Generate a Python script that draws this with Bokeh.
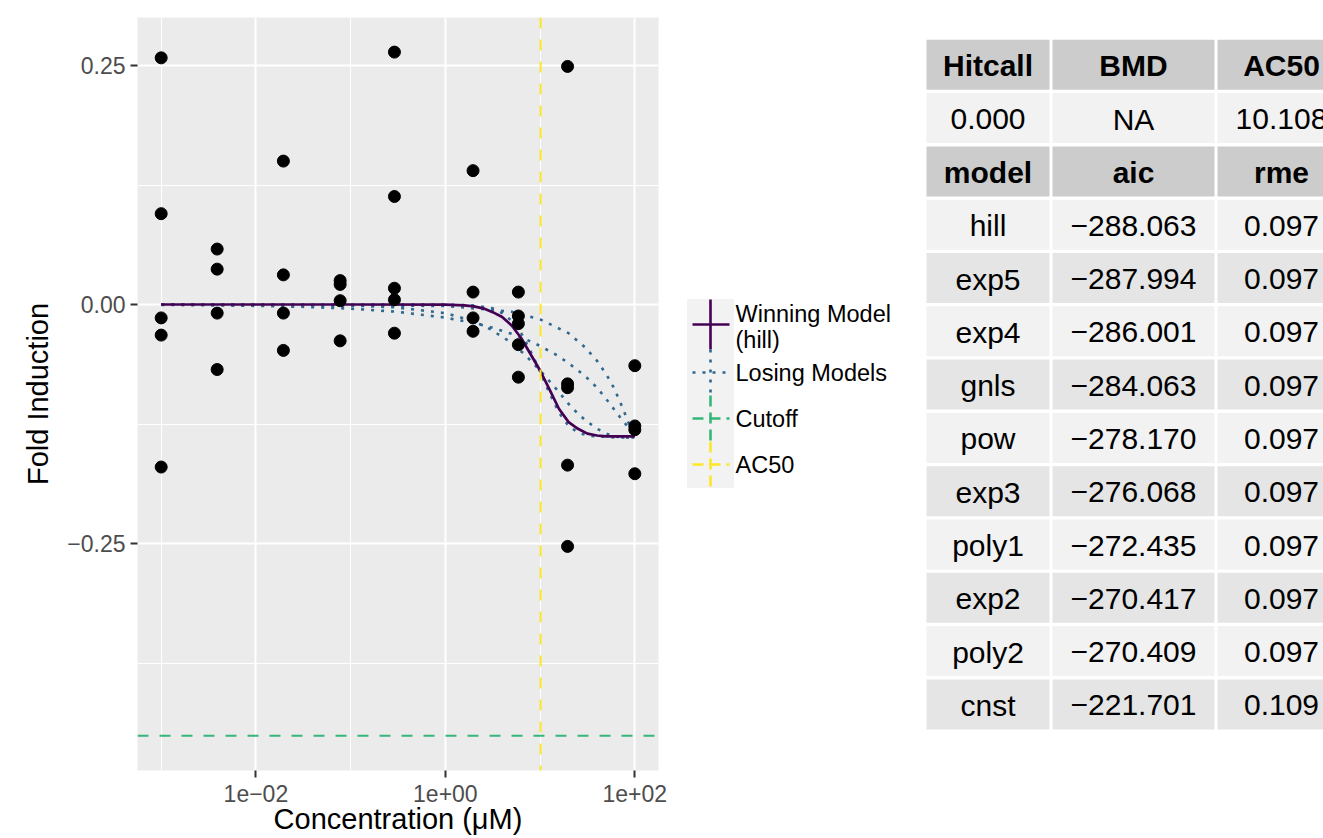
from bokeh.plotting import figure
from bokeh.models import Range1d, FixedTicker, Span, ColumnDataSource
from bokeh.layouts import row
from bokeh.embed import file_html
from bokeh.resources import INLINE
from bokeh.core.properties import value

FONT = "Liberation Sans"

# ---------------- data ----------------
conc = [0.001, 0.001, 0.001, 0.001, 0.001,
        0.0039, 0.0039, 0.0039, 0.0039,
        0.0195, 0.0195, 0.0195, 0.0195,
        0.0775, 0.0775, 0.0775, 0.0775,
        0.29, 0.29, 0.29, 0.29, 0.29,
        1.96, 1.96, 1.96, 1.96,
        5.9, 5.9, 5.9, 5.9, 5.9,
        19.5, 19.5, 19.5, 19.5, 19.5,
        100, 100, 100, 100]
resp = [0.258, 0.095, -0.014, -0.032, -0.170,
        0.058, 0.037, -0.009, -0.068,
        0.150, 0.031, -0.009, -0.048,
        0.025, 0.021, 0.004, -0.038,
        0.264, 0.113, 0.017, 0.005, -0.030,
        0.140, 0.013, -0.014, -0.028,
        0.013, -0.012, -0.020, -0.042, -0.076,
        0.249, -0.083, -0.087, -0.168, -0.253,
        -0.064, -0.127, -0.131, -0.177]

# winning model (hill)
hill_conc = [0.001, 0.1, 1.0, 1.58, 2.0, 2.51, 3.16, 3.98, 5.01, 6.31, 7.94, 10.0,
             12.6, 15.8, 20.0, 25.1, 31.6, 39.8, 50.1, 63.1, 100]
hill_resp = [0.0, 0.0, -0.0002, -0.001, -0.002, -0.004, -0.008, -0.013, -0.022, -0.035,
             -0.052, -0.069, -0.089, -0.109, -0.123, -0.130, -0.135, -0.137, -0.138,
             -0.138, -0.138]

# losing models
exp5_conc = [0.001, 1.0, 2.0, 3.16, 3.98, 5.01, 6.31, 7.94, 10.0, 12.6, 15.8, 20.0,
             25.1, 31.6, 39.8, 63.1, 100]
exp5_resp = [0.0, 0.0, -0.001, -0.004, -0.009, -0.017, -0.030, -0.049, -0.070, -0.093,
             -0.113, -0.127, -0.134, -0.137, -0.138, -0.139, -0.139]

exp4_conc = [0.001, 0.1, 0.3, 1, 2, 3, 5, 7, 10, 15, 20, 25, 30, 40, 50, 60, 80, 100]
exp4_resp = [0.0, -0.001, -0.003, -0.009, -0.0175, -0.026, -0.040, -0.053, -0.069,
             -0.089, -0.104, -0.114, -0.121, -0.130, -0.135, -0.138, -0.139, -0.140]

pow_conc = [0.001, 0.003, 0.01, 0.03, 0.1, 0.3, 1, 2, 3, 5, 7, 10, 15, 20, 30, 40,
            50, 70, 100]
pow_resp = [-0.0004, -0.0008, -0.0014, -0.0024, -0.0043, -0.0075, -0.0137, -0.0194,
            -0.0237, -0.0306, -0.0362, -0.0433, -0.053, -0.0613, -0.075, -0.087,
            -0.099, -0.118, -0.137]

poly1_conc = [0.001, 1, 5, 10, 20, 30, 40, 50, 60, 70, 80, 90, 100]
poly1_resp = [0.0, -0.0015, -0.0075, -0.0155, -0.030, -0.045, -0.059, -0.073, -0.087,
              -0.102, -0.116, -0.129, -0.140]

cutoff = -0.451
ac50 = 10.108

x_ticks = [0.01, 1, 100]
x_tick_labels = ["1e\u221202", "1e+00", "1e+02"]
y_ticks = [-0.25, 0.0, 0.25]
y_tick_labels = ["\u22120.25", "0.00", "0.25"]

legend_labels = ["Winning Model\n(hill)", "Losing Models", "Cutoff", "AC50"]

hit_header = ["Hitcall", "BMD", "AC50"]
hit_values = ["0.000", "NA", "10.108"]
model_header = ["model", "aic", "rme"]
models = ["hill", "exp5", "exp4", "gnls", "pow", "exp3", "poly1", "exp2", "poly2", "cnst"]
aic = [-288.063, -287.994, -286.001, -284.063, -278.170, -276.068, -272.435,
       -270.417, -270.409, -221.701]
rme = [0.097, 0.097, 0.097, 0.097, 0.097, 0.097, 0.097, 0.097, 0.097, 0.109]

C_WIN = "#440154"
C_LOSE = "#31688E"
C_CUT = "#35B779"
C_AC50 = "#FDE725"

TOP, BOTTOM = 17, 68   # outer borders (px) shared by both panels of the row

# ---------------- main plot ----------------
p = figure(width=680, height=838, x_axis_type="log",
           x_range=Range1d(10 ** -3.25, 10 ** 2.25),
           y_range=Range1d(-0.4874, 0.3002),
           output_backend="svg", toolbar_location=None,
           min_border_left=137, min_border_right=22, min_border_top=TOP,
           min_border_bottom=BOTTOM,
           background_fill_color="#EBEBEB", border_fill_color="white",
           outline_line_color=None)

p.xaxis.ticker = FixedTicker(ticks=x_ticks, minor_ticks=[])
p.yaxis.ticker = FixedTicker(ticks=y_ticks, minor_ticks=[])
p.xgrid.ticker = FixedTicker(ticks=x_ticks, minor_ticks=[0.001, 0.1, 10])
p.ygrid.ticker = FixedTicker(ticks=y_ticks, minor_ticks=[-0.375, -0.125, 0.125])
for g in (p.xgrid, p.ygrid):
    g.grid_line_color = "white"
    g.grid_line_width = 2
    g.minor_grid_line_color = "white"
    g.minor_grid_line_width = 1

p.xaxis.major_label_overrides = {t: l for t, l in zip(x_ticks, x_tick_labels)}
p.yaxis.major_label_overrides = {t: l for t, l in zip(y_ticks, y_tick_labels)}
for ax in (p.xaxis, p.yaxis):
    ax.axis_line_color = None
    ax.major_tick_in = 0
    ax.major_tick_out = 7
    ax.minor_tick_out = 0
    ax.minor_tick_in = 0
    ax.major_tick_line_color = "#333333"
    ax.major_tick_line_width = 2
    ax.major_label_text_font = FONT
    ax.major_label_text_font_size = "23px"
    ax.major_label_text_color = "#4D4D4D"
    ax.major_label_standoff = 5
    ax.axis_label_text_font = FONT
    ax.axis_label_text_font_size = "29px"
    ax.axis_label_text_font_style = "normal"
    ax.axis_label_text_color = "black"
p.xaxis.axis_label = "Concentration (\u03bcM)"
p.yaxis.axis_label = "Fold Induction"
p.xaxis.major_label_standoff = 7
p.xaxis.axis_label_standoff = -2
p.yaxis.axis_label_standoff = 10

p.add_layout(Span(location=ac50, dimension="height", line_color=C_AC50,
                  line_width=2, line_dash="11 11"))
p.add_layout(Span(location=cutoff, dimension="width", line_color=C_CUT,
                  line_width=2, line_dash="11 11"))

for cx, cy in ((poly1_conc, poly1_resp), (pow_conc, pow_resp),
               (exp4_conc, exp4_resp), (exp5_conc, exp5_resp)):
    p.line(cx, cy, line_color=C_LOSE, line_width=2.6, line_dash="3 7")

p.line(hill_conc, hill_resp, line_color=C_WIN, line_width=2.7)

p.scatter(conc, resp, size=12, color="black")

# ---------------- legend + tables (data units == page pixels) ----------------
q = figure(width=643, height=838, x_range=Range1d(680, 1323),
           y_range=Range1d(838 - BOTTOM, TOP),
           output_backend="svg", toolbar_location=None, min_border_left=0,
           min_border_right=0, min_border_top=TOP, min_border_bottom=BOTTOM,
           outline_line_color=None, background_fill_color="white",
           border_fill_color="white")
q.axis.visible = False
q.grid.visible = False

# legend
q.quad(left=[687], right=[733], top=[299], bottom=[487], color="#F2F2F2")
key_y = [324, 372, 418, 464]
key_top = [299, 349, 395, 441]
key_bot = [349, 395, 441, 487]
key_col = [C_WIN, C_LOSE, C_CUT, C_AC50]
key_dash = ["solid", "3 7", "11 6", "11 6"]
for i in range(4):
    q.segment(x0=[692], y0=[key_y[i]], x1=[729], y1=[key_y[i]], line_color=key_col[i],
              line_width=2.6, line_dash=key_dash[i])
    q.segment(x0=[710], y0=[key_top[i]], x1=[710], y1=[key_bot[i]], line_color=key_col[i],
              line_width=2.6, line_dash=key_dash[i])
leg_text_y = [313, 339, 372, 418, 464]
leg_texts = legend_labels[0].split("\n") + legend_labels[1:]
q.text(x=[735] * 5, y=leg_text_y, text=leg_texts, text_font=value(FONT),
       text_font_size="23.5px", text_baseline="middle", text_align="left",
       text_color="black")

# table
col_left = [926, 1052, 1217]
col_right = [1049, 1214, 1345]
row_top0 = 39.3
pitch = 53.3
cell_h = 50.0

rows = [(hit_header, "#CCCCCC", True), (hit_values, "#F2F2F2", False),
        (model_header, "#CCCCCC", True)]
for i, m in enumerate(models):
    fill = "#F2F2F2" if i % 2 == 0 else "#E5E5E5"
    rows.append(([m, "\u2212%.3f" % abs(aic[i]), "%.3f" % rme[i]], fill, False))

ql, qr, qt, qb, qc = [], [], [], [], []
tx, ty, tt, tb = [], [], [], []
for r, (cells, fill, bold) in enumerate(rows):
    top = row_top0 + r * pitch
    for c in range(3):
        ql.append(col_left[c]); qr.append(col_right[c])
        qt.append(top); qb.append(top + cell_h); qc.append(fill)
        tx.append((col_left[c] + col_right[c]) / 2.0)
        ty.append(top + cell_h / 2.0 + 1)
        tt.append(cells[c]); tb.append("bold" if bold else "normal")
q.quad(left=ql, right=qr, top=qt, bottom=qb, fill_color=qc, line_color=None)
src = ColumnDataSource(dict(x=tx, y=ty, t=tt, s=tb))
q.text(x="x", y="y", text="t", text_font_style="s", source=src, text_font=value(FONT),
       text_font_size="30px", text_baseline="middle", text_align="center",
       text_color="black")

layout = row(p, q)
open("out.html", "w").write(file_html(layout, INLINE))
